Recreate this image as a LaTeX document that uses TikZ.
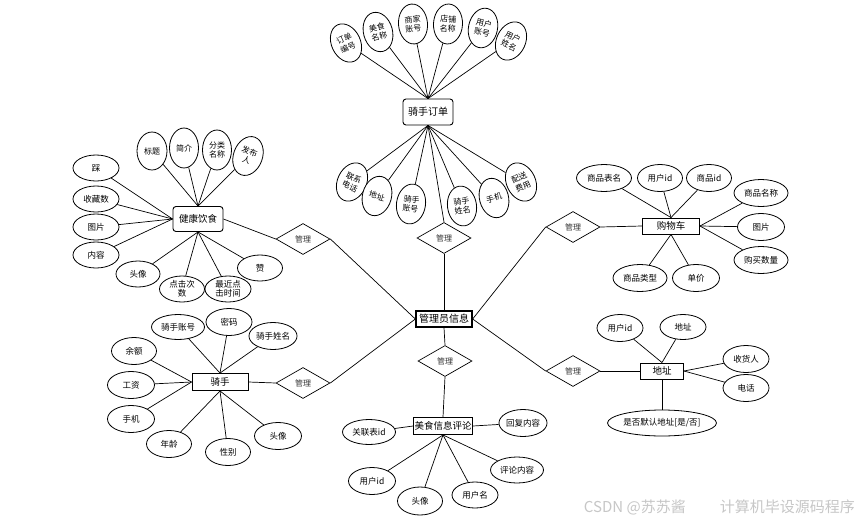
\documentclass[tikz,border=0pt]{standalone}
\usepackage{fontspec}
\setmainfont{Noto Sans CJK SC}
\usetikzlibrary{shapes.geometric}
\tikzset{
  ln/.style={draw=black, line width=0.7pt},
  attr/.style={ellipse, draw=black, line width=0.8pt, fill=white, inner sep=0pt, minimum width=46, minimum height=26, font=\fontsize{8.5}{10}\selectfont},
  tattr/.style={ellipse, draw=black, line width=0.8pt, fill=white, inner sep=0pt, minimum width=29, minimum height=40, align=center, font=\fontsize{8}{9.5}\selectfont},
  ent/.style={rectangle, draw=black, line width=0.9pt, fill=white, inner sep=1pt, minimum height=17, font=\fontsize{9.5}{11}\selectfont},
  rent/.style={ent, rounded corners=3pt},
  rel/.style={diamond, draw=black, line width=0.7pt, fill=white, inner sep=0pt, minimum width=54, minimum height=31, font=\fontsize{8}{10}\selectfont, text=black!80}
}
\begin{document}
\begin{tikzpicture}[x=1pt,y=-1pt]
\useasboundingbox (0,0) rectangle (859,522);
\fill[white] (0,0) rectangle (859,522);

% ---------------- admin
\node[ent, line width=1.3pt, minimum width=56, minimum height=16, font=\fontsize{10}{12}\selectfont] (adm) at (444,319) {管理员信息};

% ---------------- rider order
\node[rent, minimum width=50, minimum height=26, font=\fontsize{10}{12}\selectfont] (ord) at (428,112) {骑手订单};
\node[tattr, rotate=25] (o1) at (346,43) {订单\\编号};
\node[tattr, rotate=15] (o2) at (378,32) {美食\\名称};
\node[tattr, rotate=5] (o3) at (413,24) {商家\\账号};
\node[tattr, rotate=-3] (o4) at (448,24) {店铺\\名称};
\node[tattr, rotate=-12] (o5) at (483,28) {用户\\账号};
\node[tattr, rotate=-25] (o6) at (511,41) {用户\\姓名};
\node[tattr, rotate=-25] (b1) at (352,182) {联系\\电话};
\node[tattr, rotate=-15] (b2) at (377,196) {地址};
\node[tattr, rotate=-8] (b3) at (411,204) {骑手\\账号};
\node[tattr, rotate=8] (b4) at (462,206) {骑手\\姓名};
\node[tattr, rotate=15] (b5) at (494,198) {手机};
\node[tattr, rotate=25] (b6) at (521,182) {配送\\费用};
\node[rel] (r1) at (444,238) {管理};
\foreach \n in {o1,o2,o3,o4,o5,o6} \draw[ln] (\n) -- (ord.north);
\foreach \n in {b1,b2,b3,b4,b5,b6} \draw[ln] (ord.south) -- (\n);
\draw[ln] (ord.south) -- (r1.north);
\draw[ln] (r1.south) -- (adm.north);

% ---------------- healthy food
\node[rent, minimum width=50, minimum height=25] (hf) at (198,219) {健康饮食};
\node[tattr, minimum width=30, minimum height=38] (h1) at (152,151) {标题};
\node[tattr] (h2) at (184,148) {简介};
\node[tattr] (h3) at (217,150) {分类\\名称};
\node[tattr, rotate=-20] (h4) at (248,156) {发布\\人};
\node[attr] (h5) at (96,168) {踩};
\node[attr] (h6) at (96,199) {收藏数};
\node[attr] (h7) at (96,227) {图片};
\node[attr] (h8) at (96,255) {内容};
\node[attr, minimum width=44] (h9) at (138,274) {头像};
\node[attr, minimum width=45, align=center, font=\fontsize{8.5}{9.5}\selectfont] (h10) at (182,289) {点击次\\数};
\node[attr, minimum width=46, align=center, font=\fontsize{8.5}{9.5}\selectfont] (h11) at (228,289) {最近点\\击时间};
\node[attr, minimum width=45] (h12) at (260,268) {赞};
\node[rel] (r2) at (303,239) {管理};
\foreach \n in {h1,h2,h3,h4} \draw[ln] (\n) -- (hf.north);
\foreach \n in {h5,h6,h7,h8} \draw[ln] (\n) -- (hf.west);
\foreach \n in {h9,h10,h11,h12} \draw[ln] (hf.south) -- (\n);
\draw[ln] (hf.east) -- (r2.west);
\draw[ln] (r2.east) -- (adm.west);

% ---------------- cart
\node[ent, minimum width=57, minimum height=16] (cart) at (671,226) {购物车};
\node[attr, minimum width=55, minimum height=27] (c1) at (604,178) {商品表名};
\node[attr, minimum width=45, minimum height=27] (c2) at (660,178) {用户id};
\node[attr, minimum width=45, minimum height=27] (c3) at (709,178) {商品id};
\node[attr, minimum width=54, minimum height=27] (c4) at (761,193) {商品名称};
\node[attr, minimum width=47, minimum height=27] (c5) at (761,227) {图片};
\node[attr, minimum width=54, minimum height=27] (c6) at (761,260) {购买数量};
\node[attr, minimum width=54, minimum height=27] (c7) at (640,278) {商品类型};
\node[attr, minimum width=47, minimum height=27] (c8) at (696,278) {单价};
\node[rel] (r3) at (573,227) {管理};
\foreach \n in {c1,c2,c3} \draw[ln] (\n) -- (cart.north);
\foreach \n in {c4,c5,c6} \draw[ln] (cart.east) -- (\n);
\foreach \n in {c7,c8} \draw[ln] (cart.south) -- (\n);
\draw[ln] (r3.east) -- (cart.west);
\draw[ln] (adm.east) -- (r3.west);

% ---------------- rider
\node[ent, minimum width=56, minimum height=17] (rd) at (220,382) {骑手};
\node[attr, minimum width=53, minimum height=25] (d1) at (178,327) {骑手账号};
\node[attr, minimum width=46, minimum height=27] (d2) at (229,322) {密码};
\node[attr, minimum width=44, minimum height=27] (d3) at (273,336) {骑手姓名};
\node[attr, minimum width=45, minimum height=27] (d4) at (134,351) {余额};
\node[attr, minimum width=47, minimum height=27] (d5) at (131,385) {工资};
\node[attr, minimum width=47, minimum height=27] (d6) at (131,419) {手机};
\node[attr, minimum width=45, minimum height=27] (d7) at (169,444) {年龄};
\node[attr, minimum width=45, minimum height=27] (d8) at (228,452) {性别};
\node[attr, minimum width=47, minimum height=27] (d9) at (278,436) {头像};
\node[rel] (r4) at (303,383) {管理};
\foreach \n in {d1,d2,d3} \draw[ln] (\n) -- (rd.north);
\foreach \n in {d4,d5,d6} \draw[ln] (\n) -- (rd.west);
\foreach \n in {d7,d8,d9} \draw[ln] (rd.south) -- (\n);
\draw[ln] (rd.east) -- (r4.west);
\draw[ln] (r4.east) -- (adm.west);

% ---------------- comments
\node[ent, minimum width=57, minimum height=17] (cm) at (443,426) {美食信息评论};
\node[attr, minimum width=53, minimum height=25] (m1) at (369,432) {关联表id};
\node[attr, minimum width=44, minimum height=27] (m2) at (523,423) {回复内容};
\node[attr, minimum width=47, minimum height=27] (m3) at (372,481) {用户id};
\node[attr, minimum width=45, minimum height=28] (m4) at (420,501) {头像};
\node[attr, minimum width=46, minimum height=26] (m5) at (475,495) {用户名};
\node[attr, minimum width=53, minimum height=26] (m6) at (517,470) {评论内容};
\node[rel] (r5) at (445,361) {管理};
\draw[ln] (adm.south) -- (r5.north);
\draw[ln] (r5.south) -- (cm.north);
\draw[ln] (m1) -- (cm.west);
\draw[ln] (cm.east) -- (m2);
\foreach \n in {m3,m4,m5,m6} \draw[ln] (cm.south) -- (\n);

% ---------------- address
\node[ent, minimum width=43, minimum height=16] (ad) at (662,371) {地址};
\node[attr, minimum width=46, minimum height=27] (a1) at (620,328) {用户id};
\node[attr, minimum width=46, minimum height=25] (a2) at (683,327) {地址};
\node[attr, minimum width=46, minimum height=27] (a3) at (746,359) {收货人};
\node[attr, minimum width=46, minimum height=27] (a4) at (746,388) {电话};
\node[attr, minimum width=102, minimum height=26] (a5) at (662,423) {是否默认地址[是/否]};
\node[rel] (r6) at (573,371) {管理};
\foreach \n in {a1,a2} \draw[ln] (\n) -- (ad.north);
\foreach \n in {a3,a4} \draw[ln] (ad.east) -- (\n);
\draw[ln] (ad.south) -- (a5);
\draw[ln] (r6.east) -- (ad.west);
\draw[ln] (adm.east) -- (r6.west);

% ---------------- watermark
\node[text=black!22, font=\fontsize{15}{17}\selectfont, anchor=east, inner sep=0pt] (wm) at (855,507) {CSDN @苏苏酱\hspace{34pt}计算机毕设源码程序};
\end{tikzpicture}
\end{document}
